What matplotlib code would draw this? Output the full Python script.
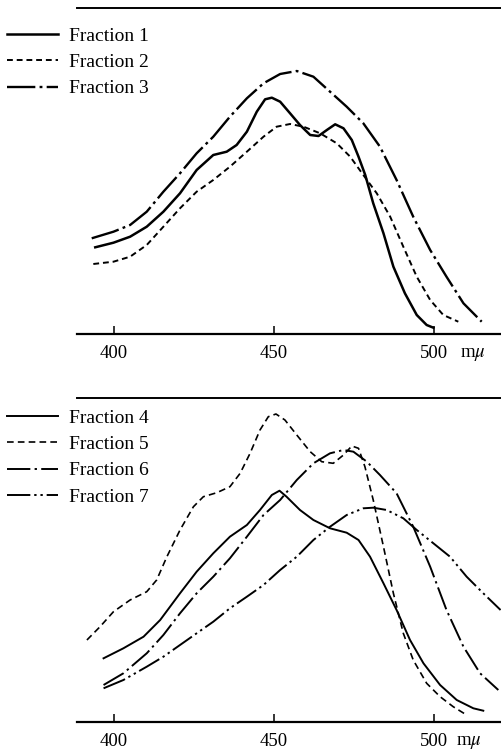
import matplotlib
matplotlib.use("Agg")
import matplotlib.pyplot as plt

plt.rcParams['font.family'] = ['Liberation Serif', 'DejaVu Serif']
plt.rcParams['mathtext.fontset'] = 'stix'

# ---- data (wavelength in m\u03bc, relative absorbance in arbitrary units) ----
f1_wl = [394.1, 399.8, 405.0, 410.2, 415.4, 420.6, 425.8, 431.0, 435.2, 438.3, 441.5, 444.6,
         447.2, 449.3, 451.9, 455.0, 458.1, 461.3, 463.9, 466.5, 469.1, 471.7, 474.3, 476.4,
         478.5, 481.0, 484.2, 487.3, 490.9, 494.6, 497.7, 499.8]
f1_ab = [86.7, 91.3, 97.3, 107.3, 122.3, 140.7, 164.0, 179.0, 182.3, 189.0, 202.3, 222.3,
         234.7, 236.3, 232.3, 220.7, 209.0, 199.0, 198.0, 204.0, 209.7, 205.7, 194.0, 177.3,
         159.0, 130.7, 100.7, 67.3, 40.7, 19.0, 9.0, 6.3]

f2_wl = [393.5, 399.8, 405.0, 410.2, 415.4, 420.6, 425.8, 431.0, 436.2, 441.5, 446.7, 450.8,
         455.0, 459.2, 464.4, 469.6, 473.8, 477.9, 482.1, 486.3, 490.4, 494.6, 498.8, 502.9, 507.6]
f2_ab = [70.0, 72.3, 77.3, 89.0, 107.3, 125.7, 142.3, 154.0, 167.3, 182.3, 197.3, 207.3,
         210.0, 207.3, 200.7, 190.7, 177.3, 159.0, 140.7, 117.3, 87.3, 57.3, 34.0, 19.0, 12.3]

f3_wl = [393.0, 399.8, 405.0, 410.2, 415.4, 420.6, 425.8, 431.0, 436.2, 441.5, 446.7, 451.9,
         457.1, 462.3, 467.5, 472.7, 477.9, 483.1, 488.3, 493.5, 498.8, 503.9, 509.2, 514.9]
f3_ab = [95.7, 102.3, 109.0, 122.3, 142.3, 160.7, 180.7, 197.3, 217.3, 235.7, 250.7, 260.0,
         263.0, 257.3, 242.3, 227.3, 210.7, 187.3, 154.0, 117.3, 84.0, 57.3, 30.7, 12.3]

f4_wl = [396.7, 402.9, 409.2, 414.4, 420.6, 425.8, 431.0, 436.2, 441.5, 445.6, 449.3, 451.7,
         453.9, 458.1, 462.3, 467.5, 472.7, 476.4, 480.0, 484.2, 488.3, 492.5, 496.7, 501.9,
         507.1, 512.3, 515.4]
f4_ab = [63.7, 73.7, 85.3, 102.0, 128.7, 150.3, 168.7, 185.3, 197.0, 212.0, 227.0, 231.3,
         225.3, 212.0, 202.0, 193.7, 189.3, 182.0, 165.3, 138.7, 112.0, 82.0, 58.7, 37.0,
         22.0, 13.7, 11.3]

f5_wl = [391.5, 395.6, 399.8, 405.0, 410.2, 413.3, 416.5, 420.6, 424.8, 427.9, 432.1, 436.2,
         439.4, 442.5, 445.6, 448.2, 450.6, 453.4, 457.1, 461.3, 464.9, 468.5, 471.7, 474.3,
         476.4, 478.4, 481.0, 484.2, 487.3, 490.4, 493.5, 497.7, 501.9, 506.0, 510.2]
f5_ab = [82.0, 95.3, 110.3, 122.0, 130.3, 142.0, 165.3, 192.0, 215.3, 225.3, 229.3, 235.3,
         248.7, 268.7, 292.0, 305.3, 308.0, 302.0, 287.0, 270.3, 260.3, 258.7, 267.0, 276.0,
         273.7, 255.3, 222.0, 175.3, 128.7, 88.7, 62.0, 38.7, 25.3, 15.3, 7.0]

f6_wl = [396.7, 402.9, 410.2, 415.4, 420.6, 425.8, 431.0, 436.2, 441.5, 446.7, 451.9, 457.1,
         462.3, 467.5, 471.7, 474.8, 479.0, 483.1, 488.3, 493.5, 498.8, 503.9, 509.2, 514.4, 520.1]
f6_ab = [37.0, 48.7, 68.7, 87.0, 108.7, 128.7, 145.3, 163.7, 185.3, 207.0, 222.0, 242.0,
         258.7, 268.7, 272.0, 270.3, 260.3, 247.0, 228.7, 195.3, 155.3, 112.0, 75.3, 48.7, 32.0]

f7_wl = [396.7, 402.9, 410.2, 415.4, 420.6, 425.8, 431.0, 436.2, 441.5, 446.7, 451.9, 457.1,
         462.3, 467.5, 472.7, 477.9, 481.0, 485.2, 490.4, 494.6, 499.8, 505.0, 510.2, 515.4, 520.8]
f7_ab = [33.7, 42.0, 55.3, 65.3, 77.0, 88.7, 100.3, 113.7, 125.3, 137.0, 152.0, 165.3,
         182.0, 195.3, 207.0, 213.7, 214.3, 212.0, 203.7, 192.0, 178.7, 165.3, 145.3, 128.7, 112.0]

top_labels = ['Fraction 1', 'Fraction 2', 'Fraction 3']
bot_labels = ['Fraction 4', 'Fraction 5', 'Fraction 6', 'Fraction 7']
tick_vals = [400, 450, 500]
tick_text = ['400', '450', '500']

# ---- figure ----
W, H = 502, 751
fig = plt.figure(figsize=(W / 100, H / 100), dpi=100)

def px_axes(x0, y_top, x1, y_bot):
    return fig.add_axes([x0 / W, 1 - y_bot / H, (x1 - x0) / W, (y_bot - y_top) / H])

ax1 = px_axes(77, 8, 502, 334)
ax2 = px_axes(77, 398, 502, 722)

xlim = (388.4, 521.25)
fs = 14

def style(ax, ytop, unit_x):
    ax.set_xlim(*xlim)
    ax.set_ylim(0, ytop)
    for s in ('left', 'right'):
        ax.spines[s].set_visible(False)
    ax.spines['bottom'].set_linewidth(1.6)
    ax.spines['top'].set_linewidth(1.4)
    ax.set_yticks([])
    ax.set_xticks(tick_vals)
    ax.set_xticklabels(tick_text, fontsize=fs - 0.5)
    ax.tick_params(axis='x', direction='in', length=6, width=1.1, pad=8, top=False)
    ax.annotate('m$\\mu$', xy=(unit_x, 0), xycoords=('data', 'axes fraction'),
                xytext=(0, -14.5), textcoords='offset points', ha='center', va='center',
                fontsize=fs - 0.5)
    ax.patch.set_visible(False)

style(ax1, 326, 512.2)
style(ax2, 324, 510.8)

k = 'black'
l1, = ax1.plot(f1_wl, f1_ab, color=k, lw=1.8, ls='-')
l2, = ax1.plot(f2_wl, f2_ab, color=k, lw=1.4, ls=(0, (3, 2)))
l3, = ax1.plot(f3_wl, f3_ab, color=k, lw=1.7, ls=(0, (12, 1.8, 1.2, 1.8)))

l4, = ax2.plot(f4_wl, f4_ab, color=k, lw=1.4, ls='-')
l5, = ax2.plot(f5_wl, f5_ab, color=k, lw=1.2, ls=(0, (4, 2.5)))
l6, = ax2.plot(f6_wl, f6_ab, color=k, lw=1.4, ls=(0, (12, 2.2, 1.2, 2.2)))
l7, = ax2.plot(f7_wl, f7_ab, color=k, lw=1.4, ls=(0, (12, 2, 1.2, 2, 1.2, 2)))

leg_kw = dict(loc='upper left', frameon=False, fontsize=fs, handlelength=2.6,
              handletextpad=0.6, borderpad=0, borderaxespad=0, labelspacing=0.45)
fig.legend([l1, l2, l3], top_labels, bbox_to_anchor=(7 / W, 1 - 27 / H), **leg_kw)
fig.legend([l4, l5, l6, l7], bot_labels, bbox_to_anchor=(7 / W, 1 - 409 / H), **leg_kw)

fig.savefig('out.png', dpi=100)
